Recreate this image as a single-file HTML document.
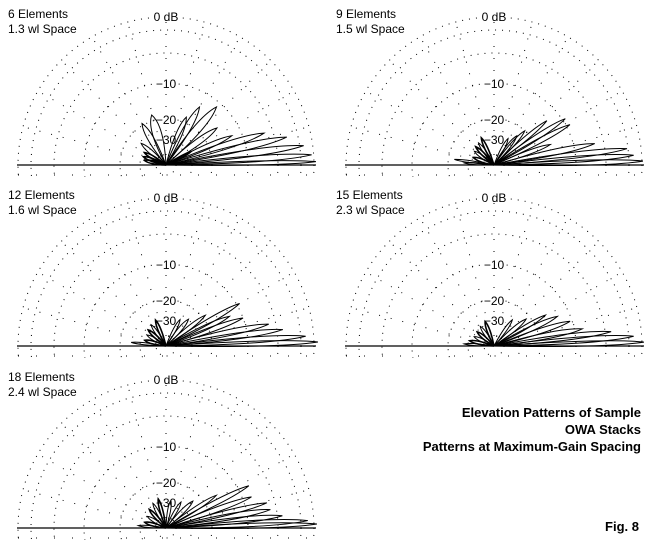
<!DOCTYPE html>
<html><head><meta charset="utf-8"><style>
html,body{margin:0;padding:0;background:#fff;width:660px;height:560px;overflow:hidden}
svg{display:block}
.l{font-family:"Liberation Sans",Arial,sans-serif;font-size:12px;fill:#000}
.t{font-family:"Liberation Sans Narrow","Liberation Sans",sans-serif;font-weight:bold;font-size:13px;fill:#000}
</style></head><body>
<svg id="s" width="660" height="560" viewBox="0 0 660 560" xmlns="http://www.w3.org/2000/svg">
<text class="t" x="641" y="417" text-anchor="end">Elevation Patterns of Sample</text>
<text class="t" x="641" y="434" text-anchor="end">OWA Stacks</text>
<text class="t" x="641" y="451" text-anchor="end">Patterns at Maximum-Gain Spacing</text>
<text class="t" x="639" y="531" text-anchor="end">Fig. 8</text>
</svg>
<script>
var S=document.getElementById('s'),NS='http://www.w3.org/2000/svg';
function el(n,a,t){var e=document.createElementNS(NS,n);for(var k in a)e.setAttribute(k,a[k]);if(t)e.textContent=t;S.appendChild(e);return e;}
var radii=[148,135,112,82,46,26,10];
function plot(cx,cy,l1,l2,lobes){
  var id='c'+cx+'_'+cy;
  var d=el('clipPath',{id:id});
  var r=document.createElementNS(NS,'rect');r.setAttribute('x',cx-152);r.setAttribute('y',cy-152);r.setAttribute('width',304);r.setAttribute('height',164);d.appendChild(r);
  radii.forEach(function(R){el('circle',{cx:cx,cy:cy,r:R,fill:'none',stroke:'#000','stroke-width':1,'stroke-dasharray':'1 6','clip-path':'url(#'+id+')'});});
  for(var a=15;a<180;a+=15){var t=a*Math.PI/180;
    el('line',{x1:cx+Math.cos(t)*10,y1:cy-Math.sin(t)*10,x2:cx+Math.cos(t)*148,y2:cy-Math.sin(t)*148,stroke:'#000','stroke-dasharray':'1 11'});}
  el('line',{x1:cx-148,y1:cy+10,x2:cx+148,y2:cy+10,stroke:'#000','stroke-dasharray':'1 17'});
  el('line',{x1:cx-149,y1:cy,x2:cx+150,y2:cy,stroke:'#000','stroke-width':1.3});
  el('rect',{x:cx-16,y:cy-154,width:32,height:11,fill:'#fff'});
  el('text',{class:'l',x:cx,y:cy-144,'text-anchor':'middle'},'0 dB');
  [['-10',82],['-20',46],['-30',26]].forEach(function(q){
    el('rect',{x:cx-11,y:cy-q[1]-6,width:22,height:12,fill:'#fff'});
    el('text',{class:'l',x:cx,y:cy-q[1]+5,'text-anchor':'middle'},'\u2212'+q[0].slice(1));});
  lobes.forEach(function(L){var t=L[0]*Math.PI/180,len=L[1],w=L[2]||len*0.07;
    var ux=Math.cos(t),uy=-Math.sin(t),px=-uy,py=ux;
    var tx=cx+ux*len,ty=cy+uy*len,mx=cx+ux*len*0.75,my=cy+uy*len*0.75;
    var p='M'+cx+' '+cy+' Q'+(mx+px*w)+' '+(my+py*w)+' '+tx+' '+ty+' Q'+(mx-px*w)+' '+(my-py*w)+' '+cx+' '+cy+'Z';
    el('path',{d:p,fill:'none',stroke:'#000','stroke-width':L[3]?1.6:1});});
  el('text',{class:'l',x:cx-158,y:cy-147},l1);
  el('text',{class:'l',x:cx-158,y:cy-132},l2);
}
plot(166,165,'6 Elements','1.3 wl Space',[[1.3,150,4],[4,146,6],[8,139,7],[13,124,7],[18,103,7],[24,72,5],[36,63,6],[49,77,8],[60,67,7],[67,52,6],[106,52,9],[120,48,6],[139,33,4],[150,25,3,1],[160,24,3,1],[168,22,3,1],[28,28,2,1]]);
plot(494,165,'9 Elements','1.5 wl Space',[[1.5,149,5],[4,140,6],[7,134,6],[12,103,6],[20,60,4],[28,86,5],[33,85,5],[40,69,4],[48,46,4],[52,37,4],[62,30,3],[115,30,3,1],[125,27,3],[135,26,3,1],[145,24,3],[160,22,3,1],[172,40,2],[176,30,2]]);
plot(166,346,'12 Elements','1.6 wl Space',[[1.5,152,5],[4,140,6],[8,118,6],[12,105,6],[20,82,5],[25,70,5],[30,85,5],[38,50,4],[50,35,4],[62,30,3],[112,28,3,1],[125,26,3],[138,24,3,1],[150,22,3],[165,22,3,1],[174,35,2]]);
plot(494,346,'15 Elements','2.3 wl Space',[[1.5,150,5],[4,140,6],[7,118,6],[11,90,6],[18,80,5],[25,70,5],[31,60,4],[40,42,4],[55,32,3],[110,26,3,1],[125,24,3],[140,22,3,1],[155,22,3],[168,25,3,1],[176,30,2]]);
plot(166,528,'18 Elements','2.4 wl Space',[[1.5,151,5],[3,142,6],[6,117,6],[10,106,6],[14,104,5],[20,91,5],[27,93,5],[33,60,4],[45,38,4],[60,30,3],[80,28,3],[105,30,3,1],[118,28,3],[132,25,3,1],[148,22,3],[165,22,3,1],[175,28,2]]);
</script>
</body></html>
